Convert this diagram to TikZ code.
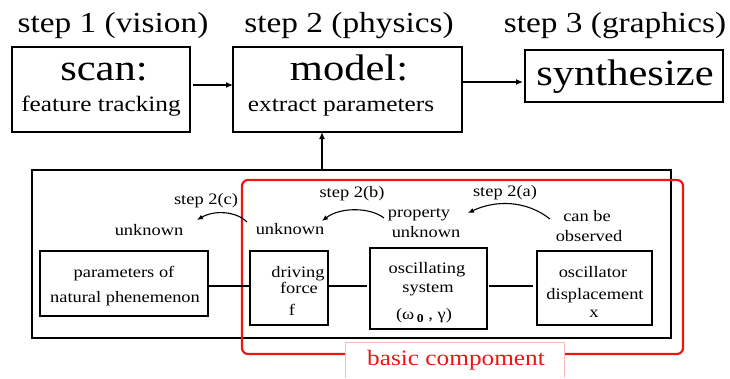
\documentclass[tikz,border=0pt]{standalone}
\usepackage{fontspec}
\setmainfont[FakeStretch=1.15]{Liberation Serif}
\usetikzlibrary{arrows.meta}
\definecolor{boxred}{RGB}{240,20,20}
\definecolor{lightpink}{RGB}{255,185,185}
\tikzset{
  box/.style={draw,line width=1.3pt,inner sep=0pt,outer sep=0pt},
  txt/.style={inner sep=0pt,anchor=base},
  huge/.style={txt,font=\fontsize{37}{40}\selectfont},
  steptxt/.style={txt,font=\fontsize{29}{32}\selectfont},
  mid/.style={txt,font=\fontsize{22}{24}\selectfont},
  small/.style={txt,font=\fontsize{16}{18}\selectfont},
  arr/.style={line width=1.3pt,-{Latex[length=7pt,width=6pt]}},
  curvy/.style={line width=1.1pt,-{Latex[length=6pt,width=5pt]}},
  link/.style={line width=1.3pt}
}
\begin{document}
\begin{tikzpicture}[x=1pt,y=-1pt]
\useasboundingbox (0,0) rectangle (730,378);

% step headings
\node[steptxt] (s1) at (113,32) {step 1 (vision)};
\node[steptxt] (s2) at (349,32) {step 2 (physics)};
\node[steptxt] (s3) at (615,32) {step 3 (graphics)};

% top boxes
\node[box,minimum width=178,minimum height=85] (scan) at (101,89.5) {};
\node[huge] (scant) at (104,80) {scan:};
\node[mid] (scans) at (101,111) {feature tracking};

\node[box,minimum width=229,minimum height=85] (model) at (347.5,89.5) {};
\node[huge] (modelt) at (349,80) {model:};
\node[mid] (models) at (341,111) {extract parameters};

\node[box,minimum width=198,minimum height=52] (synth) at (624,76) {};
\node[huge] (syntht) at (625,85) {synthesize};

\coordinate (y85) at (0,85);
\coordinate (y82) at (0,82);
\coordinate (x322) at (322,0);
\draw[arr,shorten <=3pt] (scan.east |- y85) -- (model.west |- y85);
\draw[arr,shorten >=2pt] (model.east |- y82) -- (synth.west |- y82);

% outer box
\node[box,minimum width=639,minimum height=168] (outer) at (351.5,254) {};
\draw[arr] (outer.north -| x322) -- (model.south -| x322);

% red basic component region
\node[draw=boxred,line width=2.2pt,rounded corners=6pt,minimum width=441,minimum height=174,inner sep=0pt,outer sep=0pt] (basic) at (462.5,267) {};

% label box
\node[fill=white,minimum width=219,minimum height=36,inner sep=0pt,outer sep=0pt,anchor=north] (lblbox) at (454.5,342) {};
\draw[lightpink,line width=0.8pt] (lblbox.south west) -- (lblbox.north west) -- (lblbox.north east) -- (lblbox.south east);
\node[txt,font=\fontsize{22}{24}\selectfont,text=boxred] (lbl) at (456,365) {basic compoment};

% inner boxes
\node[box,minimum width=168,minimum height=65] (params) at (124,283.5) {};
\node[small] (params1) at (124,277) {parameters of};
\node[small] (params2) at (125,302) {natural phenemenon};

\node[box,minimum width=78,minimum height=74] (driving) at (289,288) {};
\node[small] (drv1) at (298,277) {driving};
\node[small] (drv2) at (299,293) {force};
\node[small] (drv3) at (292,315) {f};

\node[box,minimum width=117,minimum height=81] (osc) at (428.5,288.5) {};
\node[small] (osc1) at (427,273) {oscillating};
\node[small] (osc2) at (428,292) {system};
\node[small] (osc3) at (424,319) {(ω\,\raisebox{-3pt}{\fontsize{12}{12}\selectfont\bfseries 0}~, γ)};

\node[box,minimum width=115,minimum height=74] (disp) at (594.5,288) {};
\node[small] (disp1) at (593,277) {oscillator};
\node[small] (disp2) at (595,299) {displacement};
\node[small] (disp3) at (594,317) {x};

\coordinate (y286) at (0,286);
\draw[link] (params.east |- y286) -- (driving.west |- y286);
\draw[link,shorten >=3pt] (driving.east |- y286) -- (osc.west |- y286);
\draw[link,shorten <=2pt,shorten >=4pt] (osc.east |- y286) -- (disp.west |- y286);

% labels above
\node[small] (st2c) at (206,204) {step 2(c)};
\node[small] (unkc) at (149,235) {unknown};
\node[small] (st2b) at (352,197) {step 2(b)};
\node[small] (unkb) at (290,234) {unknown};
\node[small] (prop1) at (419,217) {property};
\node[small] (prop2) at (426,237) {unknown};
\node[small] (st2a) at (505,196) {step 2(a)};
\node[small] (obs1) at (587,221) {can be};
\node[small] (obs2) at (589,241) {observed};

% curvy arrows
\coordinate (ca) at (247,222);
\coordinate (cb) at (197,220);
\draw[curvy] (ca) .. controls (236,211) and (214,210) .. (cb);
\coordinate (ba) at (384,218);
\coordinate (bb) at (322,221);
\draw[curvy] (ba) .. controls (370,207) and (340,207) .. (bb);
\coordinate (aa) at (550,219);
\coordinate (ab) at (468,213);
\draw[curvy] (aa) .. controls (526,200) and (495,200) .. (ab);
\end{tikzpicture}
\end{document}
